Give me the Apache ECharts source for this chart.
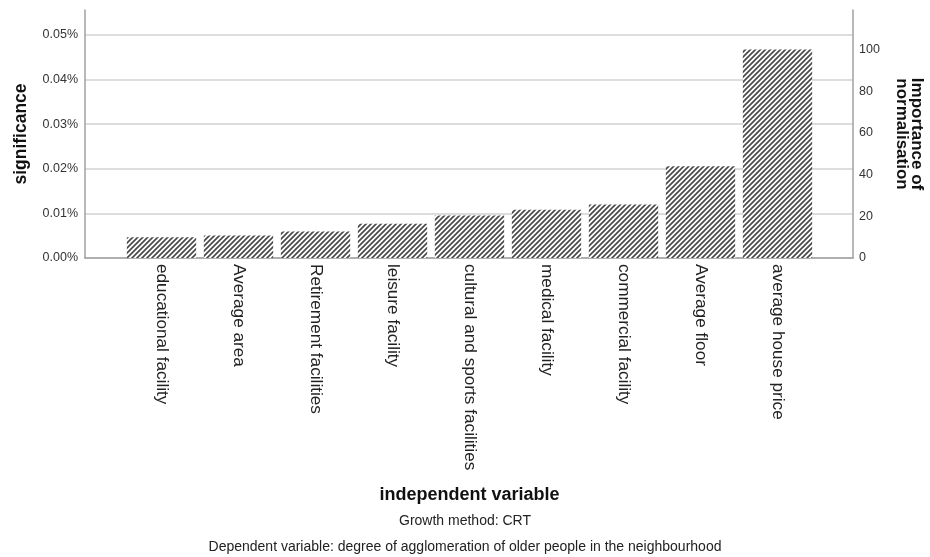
<!DOCTYPE html>
<html>
<head>
<meta charset="utf-8">
<script src="https://cdn.jsdelivr.net/npm/echarts@6/dist/echarts.min.js"></script>
<style>
  html, body { margin: 0; padding: 0; background: #fff; }
  #chart { width: 930px; height: 557px; }
</style>
</head>
<body>
<div id="chart"></div>
<script>
// Predictors, ordered by normalised importance
const categories = [
  'educational facility',
  'Average area',
  'Retirement facilities',
  'leisure facility',
  'cultural and sports facilities',
  'medical facility',
  'commercial facility',
  'Average floor',
  'average house price'
];
// Normalised importance (%), largest predictor = 100
const normalisedImportance = [10.0, 10.8, 12.7, 16.4, 20.4, 23.1, 25.7, 44.0, 100];
// Raw importance of the top predictor, in percent (left scale)
const topImportancePct = 0.0467;
const leftTicks = [0, 0.01, 0.02, 0.03, 0.04, 0.05];
const rightTicks = [0, 20, 40, 60, 80, 100];

// Both vertical scales share one pixel range
const rightMax = 119;
const leftMax = rightMax * topImportancePct / 100;

// Diagonal hatch tile for the bars
function hatchTile() {
  const c = document.createElement('canvas');
  const s = 5;
  c.width = s; c.height = s;
  const g = c.getContext('2d');
  g.fillStyle = '#ffffff';
  g.fillRect(0, 0, s, s);
  g.strokeStyle = '#4a4a4a';
  g.lineWidth = 1.7;
  g.beginPath();
  g.moveTo(-1, s + 1); g.lineTo(s + 1, -1);
  g.moveTo(-1, 1); g.lineTo(1, -1);
  g.moveTo(s - 1, s + 1); g.lineTo(s + 1, s - 1);
  g.stroke();
  return c;
}

const axisGrey = '#a0a0a0';
const font = 'Liberation Sans, Arial, sans-serif';

const chart = echarts.init(document.getElementById('chart'), null, { renderer: 'canvas' });
chart.setOption({
  animation: false,
  backgroundColor: '#ffffff',
  textStyle: { fontFamily: font },
  grid: [
    { left: 85, right: 77, top: 10, bottom: 299, outerBoundsMode: 'none', containLabel: false },
    { left: 123, right: 114, top: 10, bottom: 299, outerBoundsMode: 'none', containLabel: false }
  ],
  xAxis: [
    {
      gridIndex: 0, type: 'value', min: 0, max: 1,
      axisLine: { show: true, lineStyle: { color: axisGrey, width: 1.5 } },
      axisTick: { show: false }, axisLabel: { show: false }, splitLine: { show: false }
    },
    {
      gridIndex: 1, type: 'category', data: categories,
      axisLine: { show: false }, axisTick: { show: false },
      axisLabel: {
        rotate: -90, margin: 6, color: '#222', fontSize: 17.2, fontFamily: font, interval: 0
      },
      name: 'independent variable', nameLocation: 'middle', nameGap: 228,
      nameTextStyle: { fontSize: 18, fontWeight: 'bold', color: '#111', fontFamily: font }
    }
  ],
  yAxis: [
    {
      gridIndex: 0, type: 'value', position: 'left', min: 0, max: leftMax, interval: 0.01,
      axisLine: { show: true, lineStyle: { color: axisGrey, width: 1.5 } },
      axisTick: { show: false },
      splitLine: { show: true, showMaxLine: false, lineStyle: { color: '#d2d2d2', width: 1.5 } },
      axisLabel: {
        showMaxLabel: false, color: '#333', fontSize: 12.5, margin: 7, fontFamily: font,
        formatter: v => leftTicks.some(t => Math.abs(t - v) < 1e-9) ? v.toFixed(2) + '%' : ''
      },
      name: 'significance', nameLocation: 'middle', nameGap: 55, nameRotate: 90,
      nameTextStyle: { fontSize: 17.5, fontWeight: 'bold', color: '#111', fontFamily: font }
    },
    {
      gridIndex: 0, type: 'value', position: 'right', min: 0, max: rightMax, interval: 20,
      axisLine: { show: true, lineStyle: { color: axisGrey, width: 1.5 } },
      axisTick: { show: false }, splitLine: { show: false },
      axisLabel: {
        showMaxLabel: false, color: '#333', fontSize: 12.5, margin: 6, fontFamily: font,
        formatter: v => rightTicks.includes(v) ? String(v) : ''
      },
      name: 'Importance of\nnormalisation', nameLocation: 'middle', nameGap: 41, nameRotate: -90,
      nameTextStyle: { fontSize: 17, fontWeight: 'bold', color: '#111', fontFamily: font, lineHeight: 15 }
    },
    {
      gridIndex: 1, type: 'value', min: 0, max: rightMax, show: false,
      splitLine: { show: false }
    }
  ],
  series: [
    {
      type: 'bar', xAxisIndex: 1, yAxisIndex: 2,
      data: normalisedImportance,
      barCategoryGap: '10%',
      itemStyle: { color: { image: hatchTile(), repeat: 'repeat' } },
      silent: true
    }
  ],
  graphic: [
    {
      type: 'text', left: 'center', top: 514,
      style: { text: 'Growth method: CRT', fill: '#222', font: '14px ' + font }
    },
    {
      type: 'text', left: 'center', top: 540,
      style: {
        text: 'Dependent variable: degree of agglomeration of older people in the neighbourhood',
        fill: '#222', font: '14px ' + font
      }
    }
  ]
});
</script>
</body>
</html>
